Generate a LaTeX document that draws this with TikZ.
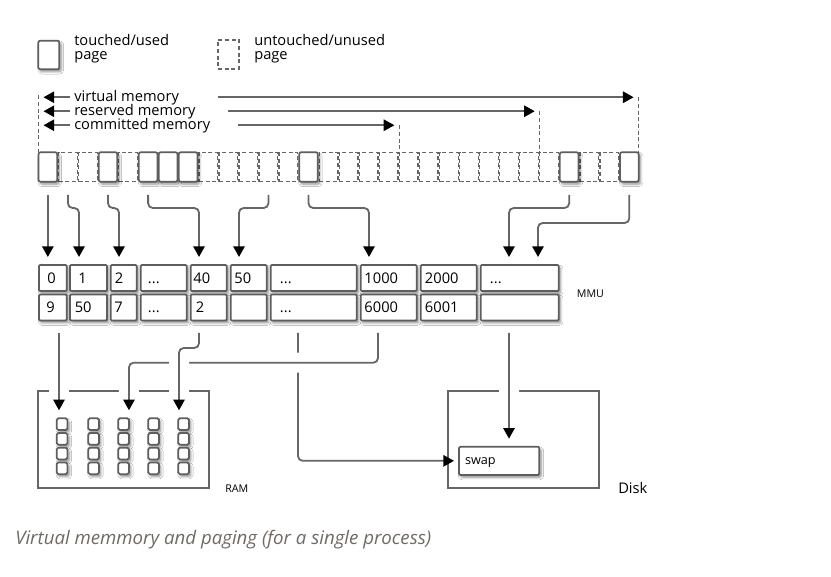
\documentclass[tikz,border=0pt]{standalone}
\usepackage{fontspec}
\setmainfont{Open Sans}
\usetikzlibrary{arrows.meta,calc,shadows.blur}
\definecolor{lgray}{HTML}{666666}
\definecolor{bgray}{HTML}{5E5E5E}
\definecolor{capgray}{HTML}{6E6A66}
\newcommand\dts{...}
\begin{document}
\begin{tikzpicture}[x=0.75pt,y=-0.75pt,
  font=\fontsize{11pt}{10.5pt}\selectfont,
  shd/.style={blur shadow={shadow xshift=1.4pt,shadow yshift=-1.8pt,shadow blur radius=1.8pt,shadow blur steps=6,shadow opacity=45}},
  used/.style={draw=bgray,line width=1.3pt,fill=white,rounded corners=1.5pt,inner sep=0pt,outer sep=0pt,shd},
  unused/.style={draw=lgray,line width=1pt,dash pattern=on 3pt off 2pt,inner sep=0pt,outer sep=0pt},
  pg/.style={minimum width=14.025pt,minimum height=22.125pt},
  cell/.style={used,rounded corners=0.8pt,minimum height=19.5pt},
  ctext/.style={inner sep=0pt,anchor=base west},
  txt/.style={inner sep=0pt},
  ln/.style={draw=lgray,line width=1.35pt},
  dsh/.style={draw=lgray,line width=1pt,dash pattern=on 3pt off 2pt},
  arr/.style={ln,rounded corners=3.5pt,-{Triangle[length=8pt,width=8.5pt,color=black]}},
  halo/.style={preaction={draw=white,line width=15pt,-}},
  box/.style={draw=lgray,line width=1.35pt,inner sep=0pt,outer sep=0pt},
  ramsq/.style={used,rounded corners=1.2pt,minimum width=8pt,minimum height=8.8pt},
]
\fill[white] (0,0) rectangle (831,577);
\useasboundingbox (0,0) rectangle (831,577);

% legend
\node[used,minimum width=15.75pt,minimum height=21.45pt] (lt) at (48.8,55) {};
\node[txt,anchor=west,align=left] (ltt) at (74,49) {touched/used\\page};
\node[unused,minimum width=15.75pt,minimum height=21.75pt] (lu) at (228.5,54.5) {};
\node[txt,anchor=west,align=left] (lut) at (254,49) {untouched/unused\\page};

% page row
\foreach \i in {1,2,4,8,9,10,11,12,14,15,16,17,18,19,20,21,22,23,24,25,27,28} {
  \pgfmathsetmacro\cx{47.85+20.05*\i}
  \node[unused,pg] (p\i) at (\cx,167) {};
}
\foreach \i in {0,3,5,6,7,13,26,29} {
  \pgfmathsetmacro\cx{47.85+20.05*\i}
  \node[used,pg] (p\i) at (\cx,167) {};
}

% memory ranges
\node[txt,anchor=base west] (tv) at (74,101.75) {virtual memory};
\node[txt,anchor=base west] (tr) at (74,115.75) {reserved memory};
\node[txt,anchor=base west] (tc) at (74,129.75) {committed memory};
\draw[dsh] ($(p0.north west)+(0,-57)$) -- (p0.north west);
\draw[arr] ($(tv.base west)+(-4,-4.5)$) -- ($(p0.north west)+(5,-55)$);
\draw[arr] ($(tr.base west)+(-4,-4.5)$) -- ($(p0.north west)+(5,-41)$);
\draw[arr] ($(tc.base west)+(-4,-4.5)$) -- ($(p0.north west)+(5,-27)$);
\coordinate (vs) at (218,97.25);
\coordinate (rs) at (228,111.25);
\coordinate (cs) at (238,125.25);
\draw[arr] (vs) -- ($(p29.north east)+(-5,-55)$);
\draw[dsh] ($(p29.north east)+(0,-55)$) -- (p29.north east);
\draw[arr] (rs) -- ($(p25.north west)+(-5,-41)$);
\draw[dsh] ($(p25.north west)+(0,-41)$) -- (p25.north west);
\draw[arr] (cs) -- ($(p18.north west)+(-5,-27)$);
\draw[dsh] ($(p18.north west)+(0,-27)$) -- (p18.north west);

% MMU
\foreach \i/\a/\b/\t/\u/\o/\q in {0/39/66.7/0/9/8/7,1/70/107/1/50/8/4.5,2/110.7/136.7/2/7/4/3.5,3/140.7/186.7/\dts/\dts/7/7,4/190.7/226.7/40/2/2.5/5,5/230.7/266.7/50/{}/3.5/3.5,6/270.7/356.7/\dts/\dts/9/9,7/360.7/416.7/1000/6000/3.5/3.5,8/420.7/476.7/2000/6001/4/4,9/480.7/558.7/\dts/{}/9/9} {
  \pgfmathsetmacro\w{(\b-\a)*0.75}
  \node[cell,minimum width=\w pt,anchor=west] (m\i) at (\a,278) {};
  \node[cell,minimum width=\w pt,anchor=west] (n\i) at (\a,307.5) {};
  \node[ctext] (mt\i) at ($(m\i.west)+(\o,5.3)$) {\t};
  \node[ctext] (nt\i) at ($(n\i.west)+(\q,5.3)$) {\u};
}
\node[txt,anchor=west,font=\fontsize{8pt}{9pt}\selectfont] (mmu) at (576.7,293.3) {MMU};

% pages -> MMU
\draw[arr] ($(p0.south)+(0,13.25)$) -- ($(m0.north)+(-5,-8)$);
\draw[arr] ($(p1.south)+(0,13.25)$) |- ($(m1.north)+(-9.5,-57)$) -- ($(m1.north)+(-9.5,-8)$);
\draw[arr] ($(p3.south)+(0,13.25)$) |- ($(m2.north)+(-4.7,-57)$) -- ($(m2.north)+(-4.7,-8)$);
\draw[arr] ($(p5.south)+(0,13.25)$) |- ($(m4.north)+(-9.7,-57)$) -- ($(m4.north)+(-9.7,-8)$);
\draw[arr] ($(p11.south)+(0,13.25)$) |- ($(m5.north)+(-9.7,-57)$) -- ($(m5.north)+(-9.7,-8)$);
\draw[arr] ($(p13.south)+(0,13.25)$) |- ($(m7.north)+(-19.7,-57)$) -- ($(m7.north)+(-19.7,-8)$);
\draw[arr] ($(p26.south)+(0,13.25)$) |- ($(m9.north)+(-10.7,-57)$) -- ($(m9.north)+(-10.7,-8)$);
\draw[arr] ($(p29.south)+(0,13.25)$) |- ($(m9.north)+(18.3,-42)$) -- ($(m9.north)+(18.3,-8)$);

% RAM and Disk
\node[box,minimum width=128.25pt,minimum height=73.2pt,anchor=north west] (ram) at (38.3,390.7) {};
\node[txt,anchor=west,font=\fontsize{8pt}{9pt}\selectfont] (raml) at (225,488.3) {RAM};
\node[box,minimum width=113.25pt,minimum height=73.2pt,anchor=north west] (disk) at (448.3,390.7) {};
\node[txt,anchor=west] (diskl) at (618,488.3) {Disk};
\node[used,rounded corners=1pt,minimum width=60.2pt,minimum height=21.2pt,anchor=north west,
  text width=51.2pt,align=left,inner xsep=4.5pt,text depth=0pt,font=\fontsize{9.5pt}{11pt}\selectfont] (swap) at (459,446.7) {swap};
\foreach \k/\xl in {0/56.7,1/88.3,2/118.3,3/148.3,4/178.3} {
  \foreach \j in {0,...,3} {
    \node[ramsq,anchor=north west] (r\k\j) at (\xl,{418.3+14.7*\j}) {};
  }
}

% MMU -> RAM / swap
\draw[arr] ($(n6.south)+(-15.7,12.25)$) |- ($(swap.west)+(-5,0)$);
\draw[arr,halo] ($(n7.south)+(-10.7,12.25)$) |- ($(r20.north east)+(0,-55.6)$) -- ($(r20.north east)+(0,-8)$);
\draw[arr,halo] ($(n4.south)+(-9.7,12.25)$) |- ($(r40.north west)+(0.7,-70.3)$) -- ($(r40.north west)+(0.7,-8)$);
\draw[arr,halo] ($(n0.south)+(6.15,12.25)$) -- ($(r00.north west)+(2.3,-8)$);
\draw[arr,halo] ($(n9.south)+(-10.7,12.25)$) -- ($(swap.north)+(9.87,-8)$);

% caption
\node[txt,anchor=base west,text=capgray,font=\fontsize{14pt}{16pt}\selectfont\itshape] (cap) at (15,544.3) {Virtual memmory and paging (for a single process)};
\end{tikzpicture}
\end{document}
